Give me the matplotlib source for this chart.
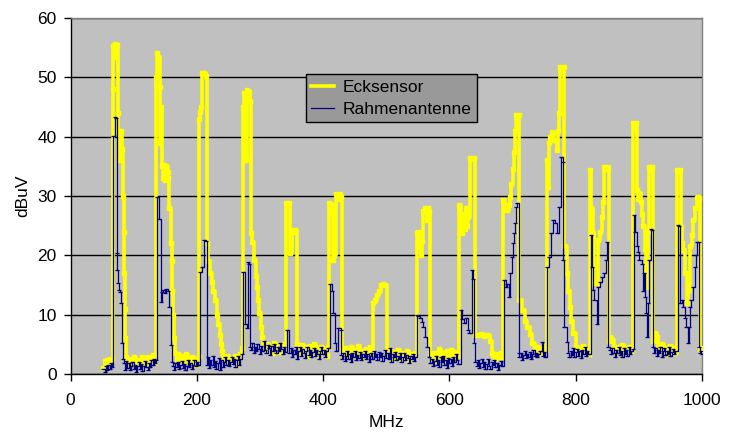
import matplotlib
matplotlib.use("Agg")
import matplotlib.pyplot as plt

# ---------------- data ----------------
eck_mhz = [52, 54, 56, 58, 60, 62, 64, 66,
           67, 68, 70, 72, 73, 75, 76, 78, 79, 80, 82, 83, 84, 85, 86, 87, 88,
           90, 92, 95, 98, 101, 104, 107, 110, 113, 116, 119, 122, 125, 128, 131, 134,
           135.5, 137, 139, 141, 142.5, 143.5, 144.5, 146, 148, 150, 152, 154, 155, 156.5, 158.5, 160, 161.5, 163, 164.5, 165.5,
           168, 171, 174, 177, 180, 183, 186, 189, 192, 195, 198, 201, 203,
           204, 205, 207, 209, 212, 215, 216.5, 218, 221, 224, 226, 229, 232, 234, 236, 238, 240, 242,
           245, 248, 251, 254, 257, 260, 263, 266, 269, 271,
           272.7, 274, 276, 277, 278.5, 280, 282, 284.5, 285.5, 288, 290.6, 293, 295, 297, 299, 301, 303, 305,
           308, 311, 314, 317, 320, 323, 326, 329, 332, 335, 338, 340,
           341.3, 344, 346, 347.6, 350.3, 353, 356, 358.2,
           361, 364, 367, 370, 373, 376, 379, 382, 385, 388, 391, 394, 397, 400, 403, 406, 408,
           409.8, 412, 414, 416, 418, 420.4, 423, 426, 428, 429.5,
           432, 435, 438, 441, 444, 447, 450, 453, 456, 459, 462, 465, 468, 471, 474, 477,
           479.5, 482, 484.9, 488, 491.2, 495, 498, 500.7,
           503, 506, 509, 512, 515, 518, 521, 524, 527, 530, 533, 536, 539, 542, 545,
           548.2, 551, 553, 555, 557, 558.5, 561, 564, 566, 568, 569.3,
           572, 575, 578, 581, 584, 587, 590, 593, 596, 599, 602, 605, 608, 611, 614,
           615.7, 618, 620, 622, 624, 626, 628, 630, 632.6, 636, 639, 640.5, 645, 650, 655, 660, 664, 667,
           669, 672, 675, 678, 681, 684,
           685.3, 688, 690, 692, 694, 696, 698, 700, 702, 704, 705.5, 708, 709.5, 710.7, 715, 719, 723, 727, 731, 735,
           738, 741, 744, 747, 750, 753,
           754, 755.5, 757, 760, 763, 765.5, 768, 770, 772, 774, 775.1, 778, 781, 781.5, 785.8, 788, 791, 793, 796.5, 800, 803,
           806, 809, 812, 815, 818, 821,
           822.6, 824.5, 826.9, 829.5, 833.3, 835.8, 838, 841.2, 843, 844.8, 848, 850.5, 852,
           855, 858, 861, 864, 867, 870, 873, 876, 879, 882, 885, 888,
           891.2, 893.5, 895.8, 897, 899, 901, 903, 905, 907, 909, 911, 912.4, 914, 916.6, 919, 921.5, 922.5,
           925, 928, 931, 934, 937, 940, 943, 946, 949, 952, 955, 958,
           960, 963, 965.5, 966.5, 968.5, 970.4, 973, 975.8, 978, 981, 983.5, 986.2, 989, 991.6, 993.5, 995.7, 996.5, 998, 1000]
eck_dbuv = [1.0, 2.2, 1.5, 2.4, 1.8, 2.6, 2.0, 2.5,
            48, 55.2, 55.6, 53.5, 55.4, 44, 41, 40.5, 36, 41, 38, 30, 24, 17, 11, 6, 2.8,
            2.0, 1.4, 2.6, 1.8, 2.9, 1.6, 2.4, 1.9, 2.8, 1.5, 2.3, 2.9, 1.7, 2.6, 3.2, 2.1,
            50, 54.1, 53.5, 48.4, 39, 45, 35, 33, 35.2, 32.7, 35, 34, 33, 28, 22, 19, 14, 10, 6, 3.5,
            2.6, 3.4, 2.2, 3.1, 2.0, 3.3, 2.4, 1.8, 2.9, 2.2, 1.6, 2.5, 3.0,
            43, 44.2, 45, 50.7, 50.8, 50.2, 22, 19, 17, 15.5, 14, 12.5, 10, 8.5, 6.5, 5, 3.8, 2.9,
            2.2, 3.1, 1.8, 2.6, 2.0, 3.0, 1.7, 2.5, 3.4, 4.4,
            45, 47.3, 44, 47.2, 36, 47.9, 47.5, 46, 23.7, 22.3, 19.2, 16.5, 14.7, 12.5, 10.2, 8, 6.3, 4.6,
            4.2, 5.0, 3.8, 4.6, 3.6, 5.2, 4.0, 4.8, 3.7, 4.4, 5.1, 4.0,
            28.9, 28.5, 28.9, 20.4, 24.2, 24.0, 24.2, 5,
            4.2, 3.3, 4.9, 3.8, 4.5, 3.0, 4.7, 3.6, 5.1, 3.9, 4.4, 3.2, 4.6, 3.7, 4.2, 3.1, 4.5,
            28.8, 27, 28.5, 19.2, 20, 30.3, 29.5, 30.3, 29.8, 4,
            3.2, 4.3, 2.8, 3.9, 4.6, 3.0, 4.1, 3.4, 4.8, 3.1, 3.9, 2.9, 4.2, 3.3, 4.5, 3.6,
            12, 12.4, 13.3, 14, 15, 15.2, 15, 3.5,
            3.0, 4.1, 2.6, 3.7, 2.9, 4.0, 3.2, 2.5, 3.6, 2.8, 3.9, 2.4, 3.3, 2.7, 3.5,
            23.8, 24, 21.5, 20, 22.5, 27.5, 27.9, 26, 27.9, 27.5, 3.5,
            2.5, 3.6, 2.2, 3.3, 4.2, 2.7, 3.5, 2.4, 3.8, 2.9, 4.0, 3.1, 2.6, 3.7, 3.0,
            28.5, 26, 23.7, 27, 24.5, 28, 25, 26.5, 36.4, 36.2, 36.4, 6.6, 6.6, 6.8, 6.4, 6.6, 5.5, 3.5,
            3.2, 2.5, 3.4, 2.8, 3.6, 2.9,
            29.3, 27.6, 28.5, 27.6, 28.5, 29.9, 32, 34.5, 37.5, 41, 43.6, 43.4, 43.6, 12.5, 10.8, 9, 8, 6.8, 5.2, 4.3,
            4.6, 3.8, 4.4, 3.6, 4.8, 4.0,
            36, 31.6, 38.9, 40, 40.8, 39.4, 39.4, 37.8, 41, 44, 51.8, 51.6, 51.8, 21.5, 17, 14, 11.3, 9, 6.9, 4.6, 3.8,
            4.4, 3.5, 4.8, 3.9, 4.2, 3.3,
            34.4, 28, 23.7, 15.3, 15.3, 22.6, 24, 26.5, 29, 34.9, 34.5, 34.9, 5.5,
            6.3, 5.8, 4.4, 3.6, 4.5, 3.8, 4.9, 3.5, 4.3, 3.7, 4.6, 3.9,
            42.3, 41.5, 42.3, 31, 29.5, 30.5, 29, 27, 25, 21, 17, 14.7, 24, 34.9, 34.5, 34.9, 5.5,
            6.9, 6.2, 4.6, 3.8, 5.0, 3.6, 4.4, 3.4, 4.7, 3.9, 4.3, 3.5,
            34.4, 34, 34.4, 24.8, 22, 20.9, 17, 12, 14, 21.5, 23.5, 26, 28, 29.6, 29.8, 29.6, 4.2, 3.8, 4.3]

rahmen_mhz = [52, 54, 56, 58, 60, 62, 64, 66,
              67.8, 70.5, 72, 73.2, 74, 75.7, 77, 78.4, 80, 81, 82.6,
              84, 86, 88, 90, 92, 94, 96, 98, 100, 102, 104, 106, 108, 110, 112, 114, 116, 118, 120, 122, 124, 126, 128, 130, 132, 134, 136,
              137.5, 140.7, 142.8, 144.5, 147, 150, 152, 155, 156.5, 158.7, 160.2,
              162, 164, 166, 168, 170, 172, 174, 176, 178, 180, 182, 184, 186, 188, 190, 192, 194, 196, 198, 200, 202,
              205, 207.5, 211.4, 214, 215.6,
              217, 219, 221, 223, 225, 227, 229, 231, 233, 235, 237, 239, 241, 243, 245, 247, 249, 251, 253, 255, 257, 259, 261, 263, 265, 267, 269, 271,
              273.6, 276.3, 279, 280.5, 283, 284.5,
              286, 288, 290, 292, 294, 296, 298, 300, 302, 304, 306, 308, 310, 312, 314, 316, 318, 320, 322, 324, 326, 328, 330, 332, 334, 336, 338, 340,
              343.3, 346.5,
              349, 351, 353, 355, 357, 359, 361, 363, 365, 367, 369, 371, 373, 375, 377, 379, 381, 383, 385, 387, 389, 391, 393, 395, 397, 399, 401, 403, 405, 407,
              410.5, 414, 416, 418.8, 421, 424, 428, 428.8,
              430, 432, 434, 436, 438, 440, 442, 444, 446, 448, 450, 452, 454, 456, 458, 460, 462, 464, 466, 468, 470, 472, 474, 476, 478, 480,
              482, 484, 486, 488, 490, 492, 494, 496, 498, 500, 502, 504, 506, 508, 510, 512, 514, 516, 518, 520, 522, 524, 526, 528, 530,
              532, 534, 536, 538, 540, 542, 544, 546,
              549.2, 551, 553.4, 556, 558.7, 561.4, 565, 568.2,
              570, 572, 574, 576, 578, 580, 582, 584, 586, 588, 590, 592, 594, 596, 598, 600, 602, 604, 606, 608, 610, 612, 614,
              618, 620, 623, 626, 629, 631.5, 635.3, 637, 639, 641,
              643, 645, 647, 649, 651, 653, 655, 657, 659, 661, 663, 665, 667, 669, 671, 673, 675, 677, 679, 681, 683,
              686.5, 689, 691.5, 694.9, 696.5, 698.7, 700.5, 702.3, 704, 705.5, 707.5, 709.7,
              711, 713, 715, 717, 719, 721, 723, 725, 727, 729, 731, 733, 735, 737, 739, 741, 743, 746, 748, 750, 752,
              755, 758.2, 760.4, 763.6, 767.2, 770.9, 774, 776.7, 779.4, 780.4, 781.5, 785.8, 788.3,
              790, 792, 794, 796, 798, 800, 802, 804, 806, 808, 810, 812, 814, 816, 818, 820,
              823.8, 825.5, 826.9, 829.5, 833.3, 835.8, 838, 841.2, 844.8, 848, 850, 851.6,
              854, 856, 858, 860, 862, 864, 866, 868, 870, 872, 874, 876, 878, 880, 882, 884, 886, 888, 890,
              892.8, 894.5, 896.6, 898.5, 900.7, 904.5, 906, 908.2, 910, 911.3, 913.4, 915, 916.6, 918.8, 921, 922,
              924, 926, 928, 930, 932, 934, 936, 938, 940, 942, 944, 946, 948, 950, 952, 954, 956, 958,
              961.5, 964, 965.2, 968, 970.4, 972.5, 974.7, 977.3, 979, 981, 983, 985.3, 988.9, 990.5, 992.6, 994.5, 995.2, 997, 999, 1000]
rahmen_dbuv = [0.8, 0.3, 1.3, 0.6, 1.5, 0.9, 1.8, 1.2,
               40.1, 43.3, 43.2, 20.4, 17.5, 15.3, 14.2, 13.9, 11.9, 5.2, 2.6,
               1.8, 0.7, 2.2, 1.0, 1.9, 0.6, 1.4, 2.1, 0.8, 1.6, 0.4, 1.3, 2.0, 0.9, 1.7, 0.5, 1.4, 2.2, 1.1, 0.7, 1.8, 1.2, 2.3, 1.5, 2.6, 1.9, 2.4,
               29.9, 26.2, 12.2, 13.9, 14.2, 13.6, 14.3, 14, 11.3, 4.9, 2.1,
               1.3, 0.7, 1.8, 1.1, 2.0, 0.8, 1.5, 2.2, 1.0, 1.7, 0.6, 1.4, 2.3, 1.2, 1.9, 0.9, 1.6, 2.4, 1.3, 2.0, 1.5,
               17.2, 18, 22.6, 22.5, 1.5,
               2.8, 1.0, 2.4, 1.6, 3.0, 1.2, 2.2, 0.8, 1.9, 2.7, 0.7, 2.3, 1.1, 2.0, 2.8, 1.6, 2.4, 1.3, 2.1, 2.9, 1.7, 2.5, 1.2, 2.3, 3.0, 1.5, 2.6, 3.4,
               17.2, 8.5, 7.8, 18.9, 18.5, 4.6,
               4.0, 5.2, 3.5, 4.6, 3.8, 5.0, 4.2, 3.4, 4.8, 3.9, 5.5, 4.1, 3.6, 4.9, 4.3, 3.2, 4.7, 3.8, 5.1, 4.0, 3.5, 4.6, 3.9, 5.3, 4.2, 3.4, 4.5, 3.7,
               7.5, 3.6,
               4.4, 2.9, 4.0, 3.3, 4.6, 2.6, 3.8, 4.5, 3.1, 4.2, 3.5, 2.7, 3.9, 4.6, 3.2, 4.0, 2.8, 3.7, 4.4, 3.0, 4.1, 3.4, 2.6, 3.9, 4.5, 3.3, 4.0, 2.9, 3.8, 4.3,
               15.2, 14, 10.2, 5.2, 3.8, 7.7, 7.5, 3.2,
               2.6, 3.5, 2.2, 3.1, 3.8, 2.5, 3.3, 2.0, 3.6, 2.8, 3.9, 2.4, 3.2, 2.7, 3.7, 2.3, 3.4, 2.9, 3.8, 2.5, 3.3, 2.1, 3.0, 3.6, 2.6, 3.9,
               2.8, 3.4, 2.4, 3.7, 2.9, 3.5, 2.2, 3.1, 4.1, 2.7, 3.6, 2.5, 4.4, 2.0, 3.4, 2.8, 3.7, 2.3, 3.1, 2.6, 3.5, 2.1, 2.9, 3.6, 2.4,
               3.2, 2.7, 1.9, 3.0, 2.5, 3.3, 2.2, 2.9,
               10, 9.8, 9.4, 8.8, 8, 6.3, 4.6, 2.9,
               1.8, 2.6, 1.4, 2.2, 3.0, 1.6, 2.4, 1.2, 2.8, 2.0, 3.1, 1.5, 2.3, 1.0, 2.7, 1.9, 2.5, 1.3, 2.9, 2.1, 3.3, 2.4, 1.7,
               10.8, 9.2, 8.6, 9.5, 7.5, 6.9, 17.5, 16, 5.2, 2.0,
               1.4, 2.3, 1.0, 1.9, 2.6, 1.2, 2.1, 0.9, 1.7, 2.5, 1.3, 0.8, 2.0, 1.5, 2.4, 1.1, 1.8, 0.7, 1.6, 2.2, 1.4,
               15.8, 14.7, 15.2, 13, 17, 19.8, 22, 23.7, 25.5, 28.2, 28.8, 3.5,
               2.8, 3.6, 2.4, 3.2, 3.9, 2.7, 3.4, 2.9, 3.7, 2.5, 3.3, 4.1, 3.0, 3.6, 2.8, 3.4, 3.9, 5.4, 3.1, 3.7, 2.9,
               18, 19.8, 23.7, 26, 25.4, 23.7, 28.2, 36.6, 35.8, 19.2, 8, 5.4, 3.5,
               2.8, 3.9, 3.2, 4.4, 2.9, 3.7, 4.2, 3.1, 3.8, 2.7, 4.0, 3.4, 4.5, 3.0, 3.9, 3.3,
               23.4, 18, 14.2, 12.5, 8.5, 14.7, 15.5, 16.4, 17, 19.2, 22.3, 4.6,
               4.0, 3.3, 4.4, 3.6, 2.9, 4.1, 3.5, 4.6, 3.2, 3.9, 2.8, 4.3, 3.4, 4.0, 3.1, 4.5, 3.3, 3.8, 4.2,
               26.8, 24, 21.5, 20.5, 19.2, 18.6, 14, 17, 13, 10.2, 6.3, 12, 19.2, 24.5, 24.2, 4.6,
               3.5, 4.3, 3.1, 4.0, 3.6, 4.5, 2.9, 3.8, 4.4, 3.2, 3.9, 3.4, 4.6, 3.0, 3.7, 4.2, 3.3, 3.9,
               25.1, 25, 11.9, 12.5, 11.3, 9.5, 8, 5.2, 8, 11.3, 12.5, 14.7, 18, 20, 22.3, 22.3, 4.6, 3.5, 3.8, 3.3]

x_ticks = [0, 200, 400, 600, 800, 1000]
y_ticks = [0, 10, 20, 30, 40, 50, 60]
series_names = ["Ecksensor", "Rahmenantenne"]

# ---------------- figure ----------------
plt.rcParams['font.family'] = ['Liberation Sans', 'DejaVu Sans']
fig = plt.figure(figsize=(7.32, 4.32), dpi=100)
ax = fig.add_axes([70.5 / 732, 58 / 432, 631.5 / 732, 356 / 432])
ax.set_facecolor('#C0C0C0')

ax.plot(eck_mhz, eck_dbuv, drawstyle='steps-post', color='#FFFF00', lw=2.6,
        marker='s', ms=2.8, mec='#FFFF00', mfc='#FFFF00', label=series_names[0], zorder=3)
ax.plot(rahmen_mhz, rahmen_dbuv, drawstyle='steps-post', color='#000080', lw=0.9,
        marker='_', ms=3, mew=0.9, label=series_names[1], zorder=4)

ax.set_xlim(0, 1000)
ax.set_ylim(0, 60)
ax.set_xticks(x_ticks)
ax.set_yticks(y_ticks)
ax.tick_params(axis='both', direction='out', length=5, width=1, labelsize=12.5, color='black')
ax.tick_params(axis='x', pad=9)
ax.tick_params(axis='y', pad=5)
ax.yaxis.grid(True, color='black', lw=1.0)
ax.set_axisbelow(True)
for s in ['top', 'right']:
    ax.spines[s].set_color('#808080')
    ax.spines[s].set_linewidth(1.0)
for s in ['left', 'bottom']:
    ax.spines[s].set_color('black')
    ax.spines[s].set_linewidth(1.0)

ax.set_xlabel('MHz', fontsize=12.5, labelpad=5)
ax.set_ylabel('dBuV', fontsize=12.5, labelpad=11)
ax.yaxis.set_label_coords(-40 / 631.5, 0.5)

leg = ax.legend(loc='upper left', bbox_to_anchor=(0.373, 0.842), frameon=True,
                fancybox=False, shadow=False, fontsize=12.5, handlelength=1.3,
                handletextpad=0.5, borderpad=0.3, labelspacing=0.4, borderaxespad=0)
leg.get_frame().set_facecolor('#999999')
leg.get_frame().set_edgecolor('black')
leg.get_frame().set_linewidth(1.0)
leg.get_frame().set_alpha(1)
for h in leg.get_lines():
    h.set_marker('')

fig.savefig('out.png', dpi=100)
